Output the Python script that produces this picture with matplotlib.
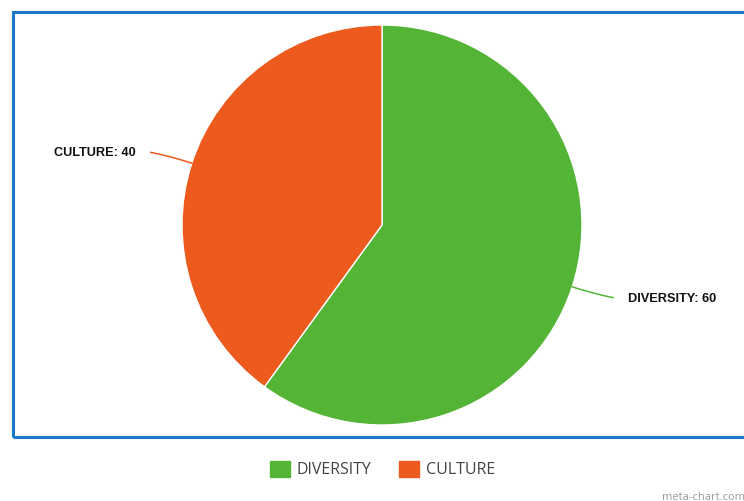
import matplotlib.pyplot as plt
from matplotlib.patches import Rectangle
import numpy as np

# data
labels = ['DIVERSITY', 'CULTURE']
values = [60, 40]
colors = ['#53b436', '#ec5a1e']

W, H = 744, 501
fig = plt.figure(figsize=(W / 100, H / 100), dpi=100)
ax = fig.add_axes([0, 0, 1, 1])

# frame of the chart area (runs off right edge)
ax.add_patch(Rectangle((12.5, H - 437), 760, 425, fill=False,
                       edgecolor='#1e78c8', linewidth=2.2, clip_on=True))

cx, cy, r = 382, H - 225, 200
wedges, _ = ax.pie(values, colors=colors, startangle=90, counterclock=False,
                   center=(cx, cy), radius=r, frame=True,
                   wedgeprops=dict(edgecolor='white', linewidth=1))
ax.set_xlim(0, W)
ax.set_ylim(0, H)
ax.set_aspect('equal')
ax.axis('off')

# data labels with curved connector lines
for w, lab, v, c in zip(wedges, labels, values, colors):
    ang = np.deg2rad((w.theta1 + w.theta2) / 2)
    dx, dy = np.cos(ang), np.sin(ang)
    side = 1 if dx > 0 else -1
    p0 = np.array([cx + r * dx, cy + r * dy])
    p2 = p0 + np.array([side * 41, dy * 35])
    ctrl = p0 + np.array([dx, dy]) * 22
    t = np.linspace(0, 1, 30)[:, None]
    curve = (1 - t) ** 2 * p0 + 2 * (1 - t) * t * ctrl + t ** 2 * p2
    ax.plot(curve[:, 0], curve[:, 1], color=c, lw=1.1)
    ax.text(p2[0] + side * 15, p2[1] - 1, f'{lab}: {v}', ha='left' if side > 0 else 'right',
            va='center', fontsize=9.2, fontweight='bold', family='Liberation Sans',
            color='#111111')

# legend
leg_x = [270, 399]
for x0, lab, c in zip(leg_x, labels, colors):
    ax.add_patch(Rectangle((x0, H - 477), 20, 16, color=c))
    ax.text(x0 + 27, H - 470, lab, fontsize=11.5, family='Open Sans',
            color='#444444', va='center', ha='left')

ax.text(662, H - 497, 'meta-chart.com', fontsize=8, family='Open Sans',
        color='#999999', va='center', ha='left')

plt.savefig('out.png', dpi=100)
